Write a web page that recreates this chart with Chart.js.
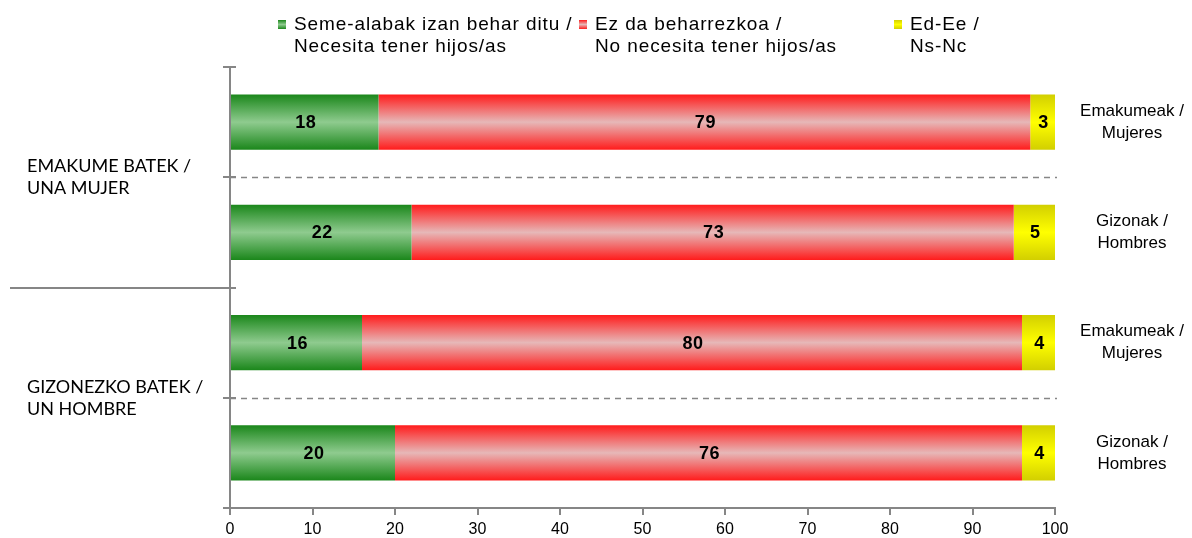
<!DOCTYPE html>
<html>
<head>
<meta charset="utf-8">
<script src="https://cdn.jsdelivr.net/npm/chart.js"></script>
<style>
	html, body { margin: 0; padding: 0; background: #fff; }
	#wrap { position: relative; width: 1192px; height: 538px; }
</style>
</head>
<body>
<div id="wrap"><canvas id="childrenChart" width="1192" height="538"></canvas></div>

<script>
	// --- Data ---
	var categories = [ [ 'Emakumeak /', 'Mujeres' ], [ 'Gizonak /', 'Hombres' ], [ 'Emakumeak /', 'Mujeres' ], [ 'Gizonak /', 'Hombres' ] ];
	var groups = [ [ 'EMAKUME BATEK /', 'UNA MUJER' ], [ 'GIZONEZKO BATEK /', 'UN HOMBRE' ] ];
	var needsChildren = [ 18, 22, 16, 20 ];
	var noNeed = [ 79, 73, 80, 76 ];
	var dontKnow = [ 3, 5, 4, 4 ];
	var seriesNames = [
		[ 'Seme-alabak izan behar ditu /', 'Necesita tener hijos/as' ],
		[ 'Ez da beharrezkoa /', 'No necesita tener hijos/as' ],
		[ 'Ed-Ee /', 'Ns-Nc' ]
	];
	var xTicks = [ 0, 10, 20, 30, 40, 50, 60, 70, 80, 90, 100 ];

	// gradient stops: edge colour, middle colour
	var greenStops = [ '#1b871b', '#8fcb8f' ];
	var redStops = [ '#ff1c1c', '#e6b8b8' ];
	var yellowStops = [ '#d2cf00', '#ffff00' ];
	var lineGray = '#868686';
	var barFraction = 0.5;

	function makeGradient(ctx, top, bottom, stops) {
		var g = ctx.createLinearGradient(0, top, 0, bottom);
		g.addColorStop(0, stops[0]);
		g.addColorStop(0.5, stops[1]);
		g.addColorStop(1, stops[0]);
		return g;
	}

	// Bar fill: vertical gradient computed for each bar from the category scale
	function barFill(stops) {
		return function (context) {
			var chart = context.chart;
			var yScale = chart.scales.y;
			if (!yScale || context.dataIndex === undefined) {
				return stops[0];
			}
			var centre = yScale.getPixelForValue(context.dataIndex);
			var half = yScale.height / categories.length * barFraction / 2;
			if (!isFinite(centre) || !isFinite(half) || half <= 0) {
				return stops[0];
			}
			return makeGradient(chart.ctx, centre - half, centre + half, stops);
		};
	}

	// Draws separators, side labels, value labels and the legend
	var decorations = {
		id: 'decorations',
		afterDraw: function (chart) {
			var ctx = chart.ctx;
			var yScale = chart.scales.y;
			var area = chart.chartArea;
			var n = categories.length;
			ctx.save();

			// tick marks across the y axis at category boundaries
			ctx.strokeStyle = lineGray;
			ctx.lineWidth = 2;
			for (var i = 0; i <= n; i++) {
				var yb = Math.round(yScale.getPixelForValue(i - 0.5));
				ctx.beginPath();
				ctx.moveTo(area.left - 7, yb);
				ctx.lineTo(area.left + 6, yb);
				ctx.stroke();
			}

			// dashed line inside each group, solid line between groups
			for (var i = 1; i < n; i++) {
				var yb = Math.round(yScale.getPixelForValue(i - 0.5)) + 0.5;
				ctx.beginPath();
				if (i % 2 === 1) {
					ctx.setLineDash([ 6, 5 ]);
					ctx.lineWidth = 1.3;
					ctx.moveTo(area.left, yb);
					ctx.lineTo(area.right + 2, yb);
				} else {
					ctx.setLineDash([]);
					ctx.lineWidth = 2;
					ctx.moveTo(10, yb - 0.5);
					ctx.lineTo(area.left, yb - 0.5);
				}
				ctx.stroke();
			}
			ctx.setLineDash([]);

			// group labels on the left
			ctx.fillStyle = '#000';
			ctx.font = '18px Lato';
			ctx.textAlign = 'left';
			ctx.textBaseline = 'middle';
			for (var g = 0; g < groups.length; g++) {
				var mid = yScale.getPixelForValue(g * 2 + 0.5);
				ctx.fillText(groups[g][0], 27, mid - 11);
				ctx.fillText(groups[g][1], 27, mid + 11);
			}

			// category labels on the right
			ctx.font = '17px "Liberation Sans"';
			ctx.textAlign = 'center';
			for (var i = 0; i < n; i++) {
				var yc = yScale.getPixelForValue(i);
				ctx.fillText(categories[i][0], area.right + 77, yc - 11);
				ctx.fillText(categories[i][1], area.right + 77, yc + 11);
			}

			// value labels in the segments
			ctx.font = 'bold 18px "Liberation Sans"';
			ctx.letterSpacing = '0.5px';
			chart.data.datasets.forEach(function (ds, di) {
				var meta = chart.getDatasetMeta(di);
				meta.data.forEach(function (bar, idx) {
					var cx = (bar.x + bar.base) / 2;
					ctx.fillText(String(ds.data[idx]), cx + 1, bar.y + 1);
				});
			});

			// legend
			var legendX = [ 277, 578, 893 ];
			var legendStops = [ greenStops, redStops, yellowStops ];
			ctx.font = '19px "Liberation Sans"';
			ctx.letterSpacing = '0.9px';
			ctx.textAlign = 'left';
			for (var k = 0; k < seriesNames.length; k++) {
				ctx.fillStyle = makeGradient(ctx, 20, 29, legendStops[k]);
				ctx.fillRect(legendX[k] + 1, 20, 8, 9);
				ctx.fillStyle = '#000';
				ctx.fillText(seriesNames[k][0], legendX[k] + 17, 25);
				ctx.fillText(seriesNames[k][1], legendX[k] + 17, 47);
			}
			ctx.restore();
		}
	};

	var ctx = document.getElementById('childrenChart').getContext('2d');
	new Chart(ctx, {
		type: 'bar',
		data: {
			labels: categories.map(function (c) { return c.join(' '); }),
			datasets: [
				{ label: seriesNames[0].join(' '), data: needsChildren, backgroundColor: barFill(greenStops) },
				{ label: seriesNames[1].join(' '), data: noNeed, backgroundColor: barFill(redStops) },
				{ label: seriesNames[2].join(' '), data: dontKnow, backgroundColor: barFill(yellowStops) }
			]
		},
		options: {
			indexAxis: 'y',
			responsive: false,
			animation: false,
			layout: {
				padding: { left: 230, right: 137, top: 67, bottom: 0 }
			},
			datasets: {
				bar: { barPercentage: barFraction, categoryPercentage: 1, borderWidth: 0 }
			},
			scales: {
				x: {
					stacked: true,
					min: 0,
					max: 100,
					afterBuildTicks: function (scale) {
						scale.ticks = xTicks.map(function (v) { return { value: v }; });
					},
					afterFit: function (scale) { scale.height = 30; },
					ticks: {
						color: '#000',
						font: { family: 'Liberation Sans', size: 16 },
						padding: 5
					},
					grid: { drawOnChartArea: false, drawTicks: true, tickLength: 7, color: lineGray, lineWidth: 2 },
					border: { color: lineGray, width: 2 }
				},
				y: {
					stacked: true,
					ticks: { display: false },
					afterFit: function (scale) { scale.width = 0; },
					grid: { display: false },
					border: { color: lineGray, width: 2 }
				}
			},
			plugins: {
				legend: { display: false },
				tooltip: { enabled: false }
			}
		},
		plugins: [ decorations ]
	});
</script>
</body>
</html>
